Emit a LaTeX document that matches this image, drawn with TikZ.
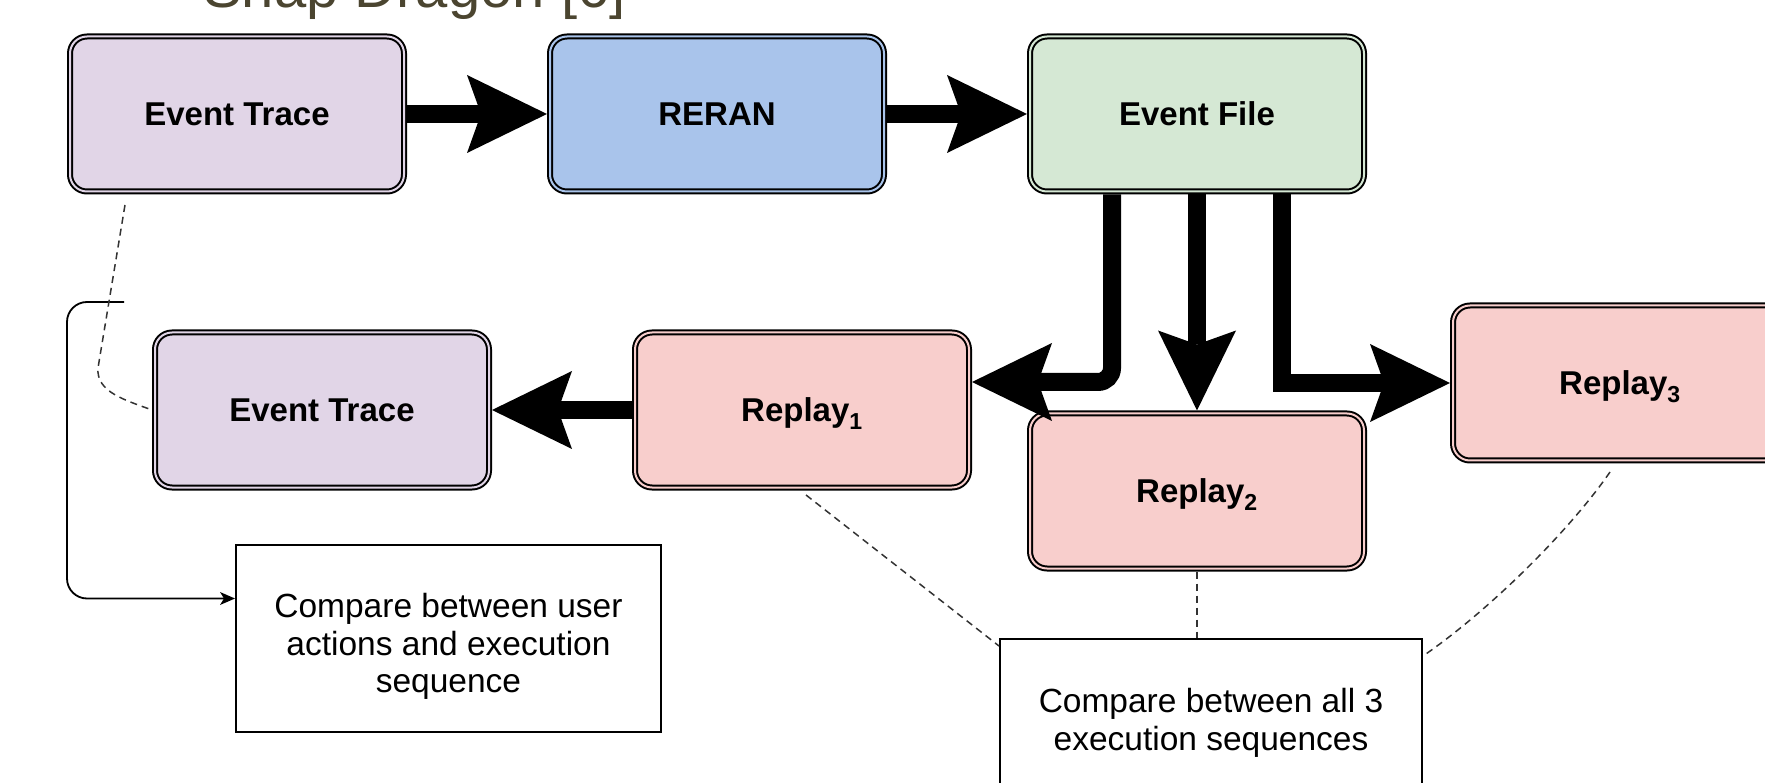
\documentclass[tikz,border=0pt]{standalone}
\usepackage{fontspec}
\setmainfont{Liberation Sans}
\usetikzlibrary{arrows.meta,calc}
\definecolor{etfill}{HTML}{E1D5E7}
\definecolor{rrfill}{HTML}{A9C4EB}
\definecolor{effill}{HTML}{D5E8D4}
\definecolor{rpfill}{HTML}{F8CECC}
\definecolor{titlecol}{HTML}{4B4530}
\begin{document}
\begin{tikzpicture}[x=1pt,y=-1pt,
  box/.style={draw=black, line width=2pt, double distance=2pt, rounded corners=17pt,
    minimum width=334pt, minimum height=155pt, outer sep=3pt, inner sep=0pt,
    font=\fontsize{33}{38}\selectfont\bfseries, text height=23.6pt, text depth=0pt},
  cmp/.style={draw=black, line width=2pt, fill=white, inner sep=0pt, align=center,
    font=\fontsize{33.5}{37.5}\selectfont},
  big/.style={line width=18pt, -{Stealth[length=80pt,width=78pt,inset=14pt,line width=0pt]}},
  thin/.style={line width=1.8pt, -{Stealth[length=15pt,width=13pt,inset=4pt,line width=0pt]}},
  dashln/.style={line width=1.5pt, black!80, dash pattern=on 7pt off 5pt}]
\useasboundingbox (0,0) rectangle (1765,783);
\clip (0,0) rectangle (1765,783);

\node[anchor=base west, inner sep=0pt, text=titlecol, font=\fontsize{58}{60}\selectfont] (title) at (203,8) {Snap Dragon [6]};

\node[box, fill=etfill, double=etfill] (ET1) at (237,114) {Event Trace};
\node[box, fill=rrfill, double=rrfill] (RR) at (717,114) {RERAN};
\node[box, fill=effill, double=effill] (EF) at (1197,114) {Event File};
\node[box, fill=etfill, double=etfill] (ET2) at (322,410) {Event Trace};
\node[box, fill=rpfill, double=rpfill] (R1) at (802,410) {Replay\textsubscript{1}};
\node[box, fill=rpfill, double=rpfill] (R2) at (1197,491) {Replay\textsubscript{2}};
\node[box, fill=rpfill, double=rpfill] (R3) at (1620,383) {Replay\textsubscript{3}};

\node[cmp, minimum width=425pt, minimum height=187pt] (C1) at (448.5,638.5) {\rule{0pt}{40pt}Compare between user\\actions and execution\\sequence};
\node[cmp, minimum width=422pt, minimum height=168pt] (C2) at (1211,723) {Compare between all 3\\execution sequences};

% thick arrows
\draw[big] (ET1.east) -- (RR.west);
\draw[big] (RR.east) -- (EF.west);
\draw[big, rounded corners=14pt] ($(EF.south)+(-85,0)$) |- ($(R1.east)+(0,-28)$);
\draw[big] (EF.south) -- (R2.north);
\draw[big] ($(EF.south)+(85,0)$) |- (R3.west);
\draw[big] (R1.west) -- (ET2.east);

% thin solid connector
\coordinate (s1) at (124,302);
\draw[thin, rounded corners=20pt] (s1) -- (67,302) |- ($(C1.west)+(0,-40)$);

% dashed connectors
\coordinate (d1) at (125,205);
\draw[dashln] (d1) -- (98,368) .. controls (96,392) and (125,400) .. (ET2.west);
\coordinate (d3) at (806,495);
\draw[dashln] (d3) -- ($(C2.north west)+(0,8)$);
\draw[dashln] (R2.south) -- (R2.south |- C2.north);
\coordinate (d5) at (1610,472);
\draw[dashln] (d5) .. controls (1570,530) and (1490,610) .. ($(C2.north east)+(0,18)$);
\end{tikzpicture}
\end{document}
